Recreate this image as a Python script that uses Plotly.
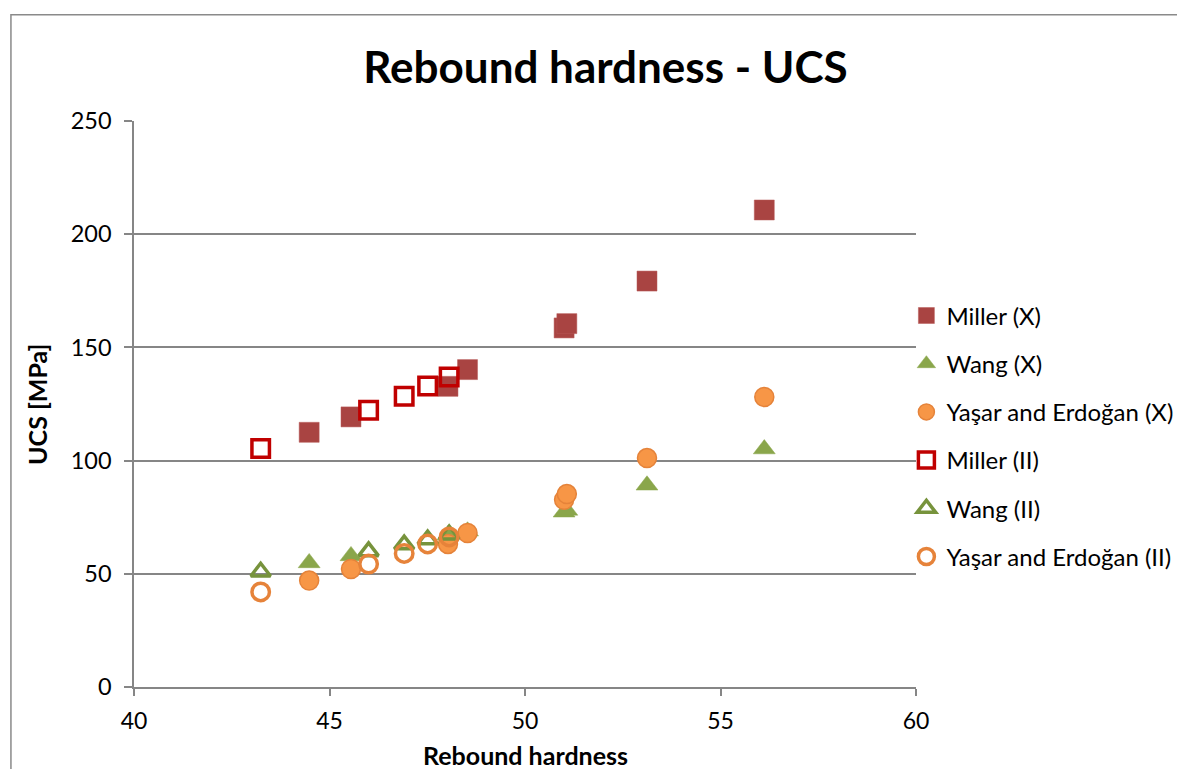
import plotly.graph_objects as go

# ---- data ----
rebound_x = [44.48, 45.55, 48.03, 48.53, 51.00, 51.07, 53.12, 56.12]
miller_x = [112.5, 119.3, 132.8, 140.2, 158.6, 160.5, 179.3, 210.7]
wang_x = [54.8, 57.9, 67.1, 68.8, 77.2, 78.0, 89.1, 105.1]
yasar_x = [47.0, 52.1, 63.2, 68.0, 82.7, 85.2, 101.1, 128.1]

rebound_ii = [43.24, 46.00, 46.91, 47.51, 48.06]
miller_ii = [105.3, 122.2, 128.4, 132.9, 136.9]
wang_ii = [50.9, 59.9, 62.9, 65.1, 67.3]
yasar_ii = [42.0, 54.3, 59.0, 63.2, 66.3]

x_ticks = [40, 45, 50, 55, 60]
y_ticks = [0, 50, 100, 150, 200, 250]

FONT = "Lato"
GRID = "#868686"

fig = go.Figure()

def add(name, xs, ys, symbol, color, size, lw, lcolor, group):
    fig.add_trace(go.Scatter(
        x=xs, y=ys, mode="markers", name=name, legendgroup=group,
        marker=dict(symbol=symbol, size=size, color=color,
                    line=dict(width=lw, color=lcolor)),
    ))

add("Miller (X)", rebound_x, miller_x, "square", "#A94442", 20, 0.5, "#B85A58", "g1")
add("Wang (X)", rebound_x, wang_x, "triangle-up", "#8AA64B", 19, 0.5, "#8AA64B", "g2")
add("Yaşar and Erdoğan (X)", rebound_x, yasar_x, "circle", "#F79646", 19, 1.5, "#E5833A", "g3")
add("Miller (II)", rebound_ii, miller_ii, "square-open", "#C00000", 17.5, 3.5, "#C00000", "g4")
add("Wang (II)", rebound_ii, wang_ii, "triangle-up-open", "#77933C", 17, 3.5, "#77933C", "g5")
add("Yaşar and Erdoğan (II)", rebound_ii, yasar_ii, "circle-open", "#E6833A", 17.5, 3.5, "#E6833A", "g6")

# the page body adds an 8px offset; layout coordinates below compensate for it
OFF = 8
W, H = 1200, 769 - OFF
L, T = 134 - OFF, 121.3 - OFF
pw, ph = 781.6, 566.0
R = W - L - pw
B = H - T - ph

def px_x(page_x):
    return (page_x - OFF - L) / pw

def px_y(page_y):
    return (T + ph - (page_y - OFF)) / ph

fig.update_layout(
    width=W, height=H,
    margin=dict(l=L, r=R, t=T, b=B, pad=0),
    paper_bgcolor="white", plot_bgcolor="white",
    font=dict(family=FONT, size=23, color="black"),
    title=dict(text="<b>Rebound hardness - UCS</b>", x=(605.5 - OFF) / W, xref="container",
               xanchor="center", y=1 - (68 - OFF) / H, yref="container", yanchor="middle",
               font=dict(family=FONT, size=44, color="black")),
    xaxis=dict(range=[40, 60], tickvals=x_ticks, ticks="outside", ticklen=7,
               tickcolor=GRID, tickwidth=1.5, showline=True, linecolor=GRID,
               linewidth=1.5, showgrid=False, zeroline=False, ticklabelstandoff=6,
               tickfont=dict(family=FONT, size=23)),
    yaxis=dict(range=[0, 250], tickvals=y_ticks, ticks="outside", ticklen=8,
               tickcolor=GRID, tickwidth=1.5, showline=True, linecolor=GRID,
               linewidth=1.5, showgrid=True, gridcolor=GRID, gridwidth=1.5,
               zeroline=False, ticklabelstandoff=8,
               tickfont=dict(family=FONT, size=23.5)),
    legend=dict(x=px_x(906), xanchor="left", y=px_y(436.7),
                yanchor="middle", font=dict(family=FONT, size=24),
                tracegroupgap=14, bgcolor="rgba(0,0,0,0)", itemsizing="trace"),
    showlegend=True,
)

fig.add_annotation(text="<b>Rebound hardness</b>", xref="paper", yref="paper",
                   x=0.5, y=px_y(755), xanchor="center", yanchor="middle",
                   showarrow=False, font=dict(family=FONT, size=25))
fig.add_annotation(text="<b>UCS [MPa]</b>", xref="paper", yref="paper",
                   x=px_x(37), y=0.5, xanchor="center", yanchor="middle",
                   textangle=-90, showarrow=False, font=dict(family=FONT, size=25))

# outer chart border (top and left visible, others beyond image)
fig.add_shape(type="rect", xref="paper", yref="paper",
              x0=px_x(11), x1=px_x(1210),
              y0=px_y(790), y1=px_y(15),
              line=dict(color="#8A8A8A", width=1.5), fillcolor="rgba(0,0,0,0)",
              layer="below")

fig.write_html("out.html")
